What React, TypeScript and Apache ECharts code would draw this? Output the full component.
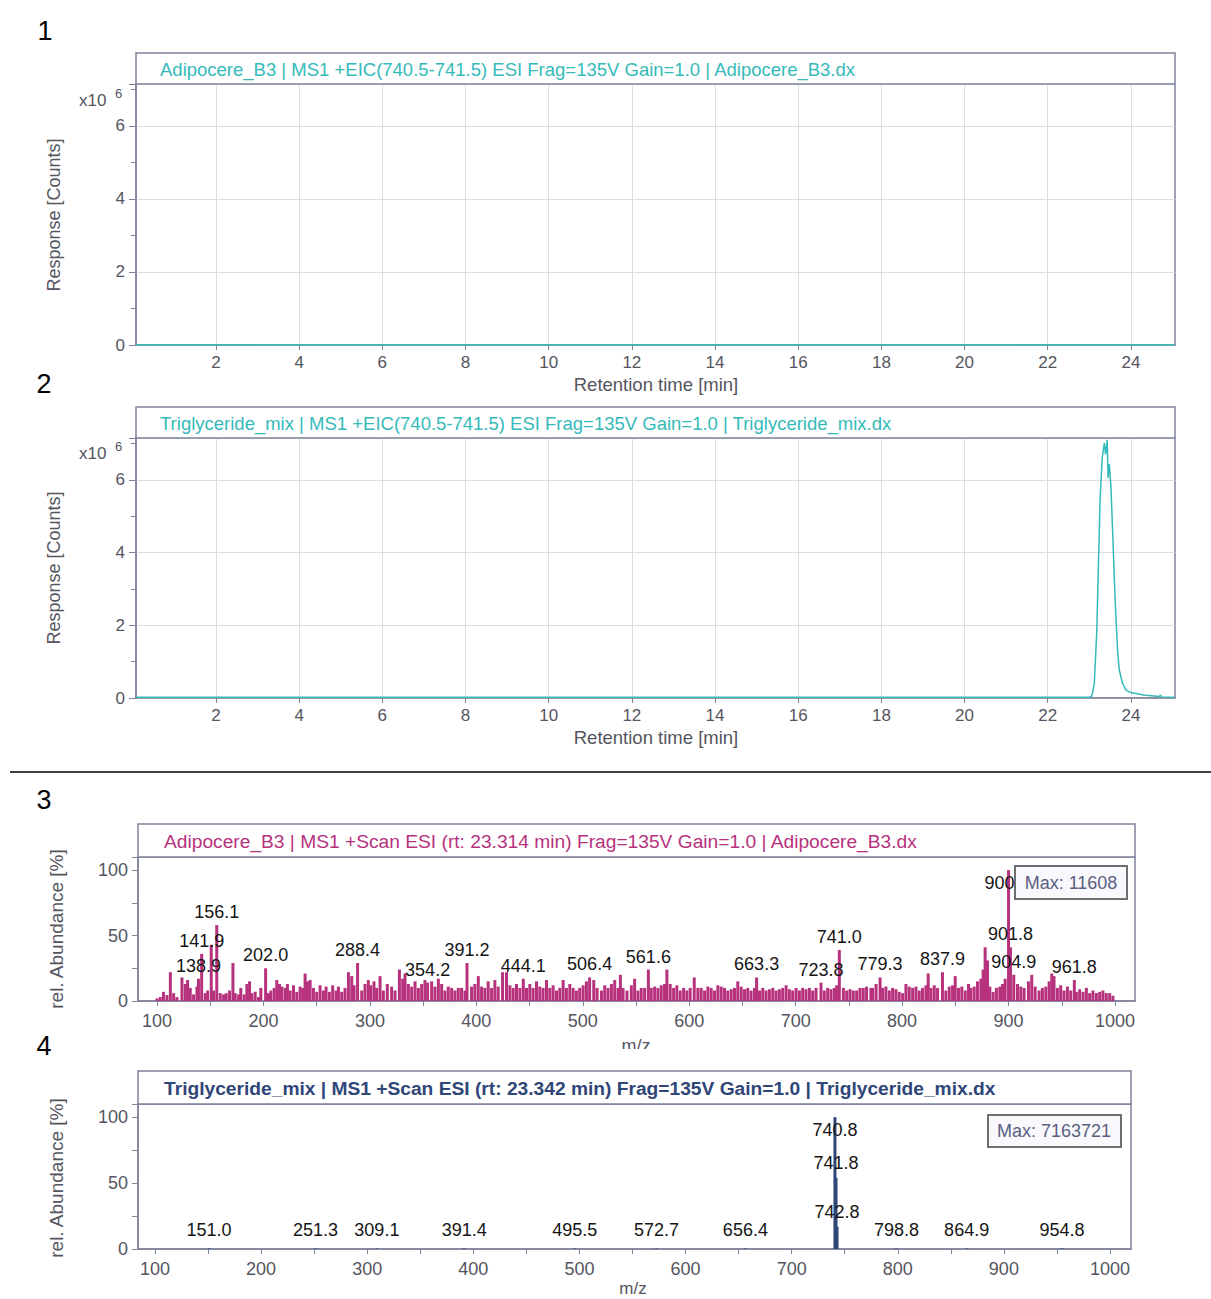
import React, { useEffect, useRef } from "react";
import * as echarts from "echarts";

// ---------- data ----------
const rtTickValues = [2, 4, 6, 8, 10, 12, 14, 16, 18, 20, 22, 24];

// Panel 1: EIC of Adipocere_B3 (flat baseline), response x10^6
const eic1Time = [0.08, 5, 10, 15, 20, 25.05];
const eic1Resp = [0.01, 0.01, 0.01, 0.01, 0.01, 0.01];

// Panel 2: EIC of Triglyceride_mix, response x10^6
const eic2Time = [0.08, 5, 10, 15, 20, 23.0, 23.06, 23.12, 23.18, 23.22, 23.26, 23.31, 23.36, 23.39, 23.43, 23.45, 23.48, 23.52, 23.56, 23.6, 23.64, 23.68, 23.72, 23.8, 23.88, 24.0, 24.3, 24.68, 24.71, 24.74, 25.05];
const eic2Resp = [0.02, 0.02, 0.02, 0.02, 0.02, 0.02, 0.05, 0.4, 1.86, 3.7, 5.5, 6.6, 7.02, 6.7, 7.1, 6.06, 6.43, 5.8, 4.6, 3.3, 2.23, 1.3, 0.77, 0.4, 0.22, 0.15, 0.08, 0.04, 0.08, 0.03, 0.02];

const mzTickValues = [100, 200, 300, 400, 500, 600, 700, 800, 900, 1000];
const mzMinorTickValues = [100, 150, 200, 250, 300, 350, 400, 450, 500, 550, 600, 650, 700, 750, 800, 850, 900, 950, 1000];

// Panel 3: Adipocere_B3 spectrum - unlabeled ions (m/z, rel. abundance %)
const noise3Mz = [
  100, 103, 106, 109.3, 112.5, 115.6, 118.7, 123.4, 126.5, 128.7, 131.2, 134.3, 137.5, 145.3, 147.5, 150.9, 153.1,
  159.4, 162.5, 165, 168.1, 171.3, 173.4, 176.6, 178.7, 181.9, 184.4, 186.9, 189.1, 192.2, 195.3, 197.5, 204.7,
  206.9, 210, 212.5, 215, 217.2, 220.3, 222.5, 225, 228.2, 231.3, 234.4, 236.9, 239.1, 241.3, 243.8, 246.9, 250,
  253.2, 256.3, 258.8, 261.9, 265, 268.2, 270.4, 273.5, 276.6, 279.8, 282.9, 285.1, 292.3, 295.4, 298.5, 300.7,
  303.8, 306.3, 309.5, 312.6, 316.3, 320.4,
  323.6, 327.7, 330.8, 333, 336.1, 339.2, 342.4, 345.5, 348.6, 351.7, 358, 361.1, 364.3, 367.4, 370.5, 373.6,
  376.8, 379.9, 383, 386.1, 389.3, 395.5, 398.6, 401.8, 404.9, 408, 411.1, 414.3, 417.4, 420.5, 424.6, 428.3,
  431.5, 434.6, 437.7, 440.9, 447.1, 450.2, 453.3, 456.5, 459.6, 462.7, 465.9, 469, 472.1, 475.3, 478.4, 481.5,
  484.6, 487.8, 490.9, 494, 497.1, 500.3, 503.4, 510.3, 513.4, 517.5, 520.6, 523.7, 526.9, 530, 533.1, 535.3,
  537.8, 541.5,
  545.6, 548.7, 551.8, 554.9, 558.1, 564.3, 567.5, 570.6, 573.7, 576.8, 579, 582.1, 585.3, 588.4, 591.5, 594.7,
  597.8, 600.9, 604.7, 608.1, 611.2, 614.4, 617.5, 620.6, 623.7, 626.9, 630, 633.1, 636.2, 639.4, 642.5, 645.6,
  648.8, 651.9, 655, 658.1, 661.3, 666, 669.1, 672.2, 675.3, 678.5, 681.6, 684.7, 687.8, 691, 694.1, 697.2,
  700.4, 703.5, 706.6, 709.7, 712.9, 716, 719.1, 726.9, 730.1, 733.2, 736.3, 738.5, 744.8, 747.9, 751, 754.1,
  757.3, 760.4, 763.5, 766.6, 770.7,
  772.3, 775.5, 781.7, 784.8, 788, 791.1, 794.2, 797.3, 800.5, 803.6, 806.7, 809.9, 813, 816.1, 819.2, 822.4,
  824.5, 827.1, 830.2, 833.3, 841.1, 844.3, 847.4, 849.9, 853, 856.1, 859.3, 862.4, 864.6, 867.7, 870.8, 874,
  876.1, 878, 880.2, 882.4, 885.5, 888.6, 891.8, 894.3, 896.8, 908.4, 911.5, 914.6, 918.7, 921.8, 925, 928.7,
  931.8, 935, 938.1, 940.6, 942.7, 945.9, 949, 952.1, 955.3, 958.4, 963.7, 966.8, 970, 973.1, 976.2, 979.3,
  982.5, 985.6, 988.7, 991.8, 995, 998.1,
];
const noise3Ab = [
  2, 3, 7, 4.5, 22, 6, 3, 18, 13, 16, 10, 5, 11, 6, 8, 43, 8,
  6, 5, 6, 8, 29, 6, 5, 10, 5, 13, 15, 6, 7, 3, 10, 6,
  8, 10, 16, 13, 11, 10, 13, 8, 12, 7, 11, 10, 21, 15, 16, 10, 7,
  12, 8, 11, 7, 12, 8, 11, 7, 10, 22, 19, 12, 8, 13, 16, 12,
  15, 10, 19, 8, 13, 11,
  8, 24, 17, 21, 13, 11, 15, 10, 13, 16, 15, 11, 17, 13, 8, 11,
  10, 8, 10, 10, 8, 11, 13, 19, 11, 10, 15, 10, 16, 11, 22, 22,
  12, 10, 13, 10, 10, 13, 10, 15, 11, 10, 16, 10, 12, 8, 10, 16,
  10, 13, 10, 8, 10, 12, 15, 16, 10, 8, 12, 10, 13, 16, 10, 20,
  10, 8,
  12, 17, 8, 10, 10, 10, 11, 10, 12, 13, 24, 13, 10, 12, 8, 10,
  8, 10, 18, 10, 10, 8, 11, 10, 8, 12, 11, 10, 8, 9, 10, 15,
  11, 9, 10, 8, 10, 8, 10, 8, 9, 10, 8, 9, 10, 12, 9, 8,
  10, 8, 10, 9, 10, 8, 10, 8, 10, 9, 10, 12, 10, 8, 9, 8,
  8, 10, 10, 11, 10,
  10, 13, 10, 11, 8, 10, 9, 7, 6, 13, 11, 10, 11, 8, 10, 12,
  21, 10, 12, 10, 8, 11, 12, 19, 10, 11, 8, 13, 10, 11, 15, 17,
  24, 41, 31, 11, 7, 10, 11, 13, 17, 13, 11, 10, 15, 20, 11, 8,
  10, 11, 15, 21, 19, 10, 12, 8, 11, 8, 7, 9, 7, 10, 6, 8,
  6, 7, 8, 6, 6, 4,
];

// Panel 3: labeled ions
const peak3Mz = [138.9, 141.9, 156.1, 202.0, 288.4, 354.2, 391.2, 444.1, 506.4, 561.6, 663.3, 723.8, 741.0, 779.3, 837.9, 900.0, 901.8, 904.9, 961.8];
const peak3Ab = [17, 36, 58, 25, 29, 14, 29, 17, 18, 24, 18, 14, 39, 18, 22, 100, 41, 20, 16];
const peak3Text = ["138.9", "141.9", "156.1", "202.0", "288.4", "354.2", "391.2", "444.1", "506.4", "561.6", "663.3", "723.8", "741.0", "779.3", "837.9", "900", "901.8", "904.9", "961.8"];

// Panel 4: Triglyceride_mix spectrum, labeled ions
const peak4Mz = [151.0, 251.3, 309.1, 391.4, 495.5, 572.7, 656.4, 740.8, 741.8, 742.8, 798.8, 864.9, 954.8];
const peak4Ab = [0.4, 0.4, 0.4, 0.4, 0.4, 0.4, 0.4, 100, 54, 17, 0.4, 0.4, 0.4];
const peak4Text = ["151.0", "251.3", "309.1", "391.4", "495.5", "572.7", "656.4", "740.8", "741.8", "742.8", "798.8", "864.9", "954.8"];

const title1 = "Adipocere_B3 | MS1 +EIC(740.5-741.5) ESI Frag=135V Gain=1.0 | Adipocere_B3.dx";
const title2 = "Triglyceride_mix | MS1 +EIC(740.5-741.5) ESI Frag=135V Gain=1.0 | Triglyceride_mix.dx";
const title3 = "Adipocere_B3 | MS1 +Scan ESI (rt: 23.314 min) Frag=135V Gain=1.0 | Adipocere_B3.dx";
const title4 = "Triglyceride_mix | MS1 +Scan ESI (rt: 23.342 min) Frag=135V Gain=1.0 | Triglyceride_mix.dx";
const max3Text = "Max: 11608";
const max4Text = "Max: 7163721";

// ---------- styles ----------
const FONT = '"Liberation Sans", Arial, sans-serif';
const AXIS = "#7f839b";
const GRIDLINE = "#dddddd";
const TICKTEXT = "#555560";
const TEAL = "#35baba";
const MAGENTA = "#b7327d";
const NAVY = "#2f4678";

function rtXAxis(gridIndex: number) {
  return {
    gridIndex,
    type: "value",
    min: 0.077,
    max: 25.06,
    axisLine: { show: true, onZero: false, lineStyle: { color: AXIS, width: 1.5 } },
    axisTick: { show: true, customValues: rtTickValues, length: 5, lineStyle: { color: AXIS } },
    axisLabel: { customValues: rtTickValues, color: TICKTEXT, fontSize: 17, fontFamily: FONT, margin: 9 },
    splitLine: { show: true, lineStyle: { color: GRIDLINE, width: 1 } },
  };
}
function rtYAxis(gridIndex: number) {
  return {
    gridIndex,
    type: "value",
    min: 0,
    max: 7.15,
    interval: 2,
    axisLine: { show: true, lineStyle: { color: AXIS, width: 1.5 } },
    axisTick: { show: true, length: 7, lineStyle: { color: AXIS } },
    minorTick: { show: true, splitNumber: 2, length: 5, lineStyle: { color: AXIS } },
    axisLabel: { color: TICKTEXT, fontSize: 17, fontFamily: FONT, margin: 11, showMaxLabel: false },
    splitLine: { show: true, lineStyle: { color: GRIDLINE, width: 1 } },
  };
}
function mzXAxis(gridIndex: number, min: number, max: number) {
  return {
    gridIndex,
    type: "value",
    min,
    max,
    axisLine: { show: true, onZero: false, lineStyle: { color: AXIS, width: 1.5 } },
    axisTick: { show: true, customValues: mzMinorTickValues, length: 5, lineStyle: { color: AXIS } },
    axisLabel: {
      customValues: mzTickValues,
      formatter: (v: number) => String(Math.round(v)),
      color: TICKTEXT,
      fontSize: 18,
      fontFamily: FONT,
      margin: 11,
    },
    splitLine: { show: false },
  };
}
function mzYAxis(gridIndex: number) {
  return {
    gridIndex,
    type: "value",
    min: 0,
    max: 110,
    interval: 50,
    axisLine: { show: true, lineStyle: { color: AXIS, width: 1.5 } },
    axisTick: { show: true, length: 6, lineStyle: { color: AXIS } },
    minorTick: { show: true, splitNumber: 2, length: 6, lineStyle: { color: AXIS } },
    axisLabel: { color: TICKTEXT, fontSize: 18, fontFamily: FONT, margin: 10, showMaxLabel: false },
    splitLine: { show: false },
  };
}

function buildOption() {
  const gridBase = { show: true, borderColor: AXIS, borderWidth: 1.5, backgroundColor: "transparent" };
  const labelStyle = { color: "#151515", fontSize: 18, fontFamily: FONT };

  const spec3Data: any[] = noise3Mz.map((mz, i) => [mz, noise3Ab[i]]);
  peak3Mz.forEach((mz, i) => {
    const txt = peak3Text[i];
    const lab: any = { show: true, formatter: txt, position: "top", distance: 4, ...labelStyle };
    if (txt === "900") {
      lab.position = "insideTop";
      lab.offset = [-9, 0];
    }
    spec3Data.push({ value: [mz, peak3Ab[i]], label: lab });
  });

  const spec4Data: any[] = peak4Mz.map((mz, i) => {
    const txt = peak4Text[i];
    const lab: any = { show: true, formatter: txt, position: "top", distance: peak4Ab[i] < 5 ? 9 : 6, ...labelStyle };
    if (txt === "740.8") {
      lab.position = "insideTop";
      lab.distance = 4;
    }
    return { value: [mz, peak4Ab[i]], label: lab };
  });

  const txt = (x: number, y: number, text: string, extra: any = {}) => ({
    type: "text",
    x,
    y,
    z: 100,
    style: { text, fill: "#333", fontSize: 17, fontFamily: FONT, align: "center", verticalAlign: "middle", ...extra },
  });
  const titleBox = (x: number, y: number, w: number, h: number) => ({
    type: "rect",
    z: 90,
    shape: { x, y, width: w, height: h },
    style: { fill: "#ffffff", stroke: AXIS, lineWidth: 1.5 },
  });

  const graphic: any[] = [
    // panel numbers
    txt(45, 31, "1", { fill: "#000", fontSize: 27 }),
    txt(44, 384, "2", { fill: "#000", fontSize: 27 }),
    txt(44, 800, "3", { fill: "#000", fontSize: 27 }),
    txt(44, 1046, "4", { fill: "#000", fontSize: 27 }),
    // separator
    { type: "line", z: 100, shape: { x1: 10, y1: 772, x2: 1211, y2: 772 }, style: { stroke: "#000", lineWidth: 1.5 } },
    // title boxes
    titleBox(136, 53, 1039, 31),
    txt(160, 69, title1, { fill: TEAL, align: "left", fontSize: 18.5 }),
    titleBox(136, 407, 1039, 31),
    txt(160, 423, title2, { fill: TEAL, align: "left", fontSize: 18.5 }),
    titleBox(138, 824, 997, 33),
    txt(164, 841, title3, { fill: MAGENTA, align: "left", fontSize: 19.2 }),
    titleBox(138, 1071, 993, 33),
    txt(164, 1088, title4, { fill: NAVY, align: "left", fontSize: 19.2, fontWeight: "bold" }),
    // x10^6 multipliers
    txt(79, 100, "x10", { align: "left", fill: TICKTEXT, fontSize: 17 }),
    txt(115, 93, "6", { align: "left", fill: TICKTEXT, fontSize: 13 }),
    txt(79, 453, "x10", { align: "left", fill: TICKTEXT, fontSize: 17 }),
    txt(115, 446, "6", { align: "left", fill: TICKTEXT, fontSize: 13 }),
    // y axis names
    { ...txt(54, 215, "Response [Counts]", { fill: TICKTEXT, fontSize: 18 }), rotation: Math.PI / 2 },
    { ...txt(54, 568, "Response [Counts]", { fill: TICKTEXT, fontSize: 18 }), rotation: Math.PI / 2 },
    { ...txt(56, 929, "rel. Abundance [%]", { fill: TICKTEXT, fontSize: 19 }), rotation: Math.PI / 2 },
    { ...txt(56, 1178, "rel. Abundance [%]", { fill: TICKTEXT, fontSize: 19 }), rotation: Math.PI / 2 },
    // x axis names
    txt(656, 384, "Retention time [min]", { fill: TICKTEXT, fontSize: 18.5 }),
    txt(656, 737, "Retention time [min]", { fill: TICKTEXT, fontSize: 18.5 }),
    txt(636, 1046, "m/z", { fill: TICKTEXT, fontSize: 18 }),
    { type: "rect", z: 101, shape: { x: 600, y: 1049, width: 80, height: 16 }, style: { fill: "#ffffff" } },
    txt(633, 1288, "m/z", { fill: TICKTEXT, fontSize: 17 }),
    // max boxes
    { type: "rect", z: 110, shape: { x: 1015, y: 866, width: 112, height: 33 }, style: { fill: "#f8f8fd", stroke: "#6e6e6e", lineWidth: 2 } },
    { ...txt(1071, 883, max3Text, { fill: "#5a6080", fontSize: 18 }), z: 111 },
    { type: "rect", z: 110, shape: { x: 988, y: 1115, width: 133, height: 32 }, style: { fill: "#f8f8fd", stroke: "#6e6e6e", lineWidth: 2 } },
    { ...txt(1054, 1131, max4Text, { fill: "#5a6080", fontSize: 18 }), z: 111 },
  ];

  return {
    animation: false,
    backgroundColor: "#ffffff",
    grid: [
      { ...gridBase, left: 136, top: 84, width: 1039, height: 261 },
      { ...gridBase, left: 136, top: 438, width: 1039, height: 260 },
      { ...gridBase, left: 138, top: 857, width: 997, height: 144 },
      { ...gridBase, left: 138, top: 1104, width: 993, height: 145 },
    ],
    xAxis: [rtXAxis(0), rtXAxis(1), mzXAxis(2, 82.1, 1018.8), mzXAxis(3, 84, 1019.8)],
    yAxis: [rtYAxis(0), rtYAxis(1), mzYAxis(2), mzYAxis(3)],
    series: [
      {
        type: "line",
        xAxisIndex: 0,
        yAxisIndex: 0,
        data: eic1Time.map((t, i) => [t, eic1Resp[i]]),
        showSymbol: false,
        lineStyle: { color: TEAL, width: 1.5 },
        itemStyle: { color: TEAL },
      },
      {
        type: "line",
        xAxisIndex: 1,
        yAxisIndex: 1,
        data: eic2Time.map((t, i) => [t, eic2Resp[i]]),
        showSymbol: false,
        lineStyle: { color: TEAL, width: 1.5 },
        itemStyle: { color: TEAL },
      },
      {
        type: "bar",
        xAxisIndex: 2,
        yAxisIndex: 2,
        data: spec3Data,
        barWidth: 3,
        itemStyle: { color: MAGENTA },
        label: { show: false },
      },
      {
        type: "bar",
        xAxisIndex: 3,
        yAxisIndex: 3,
        data: spec4Data,
        barWidth: 3,
        itemStyle: { color: NAVY },
        label: { show: false },
      },
    ],
    graphic,
  };
}

export default function App() {
  const ref = useRef<HTMLDivElement>(null);
  useEffect(() => {
    if (!ref.current) return;
    const chart = echarts.init(ref.current, undefined, { renderer: "svg" });
    chart.setOption(buildOption() as any);
    return () => chart.dispose();
  }, []);
  return <div ref={ref} style={{ position: "absolute", left: 0, top: 0, width: 1211, height: 1299, background: "#fff" }} />;
}
